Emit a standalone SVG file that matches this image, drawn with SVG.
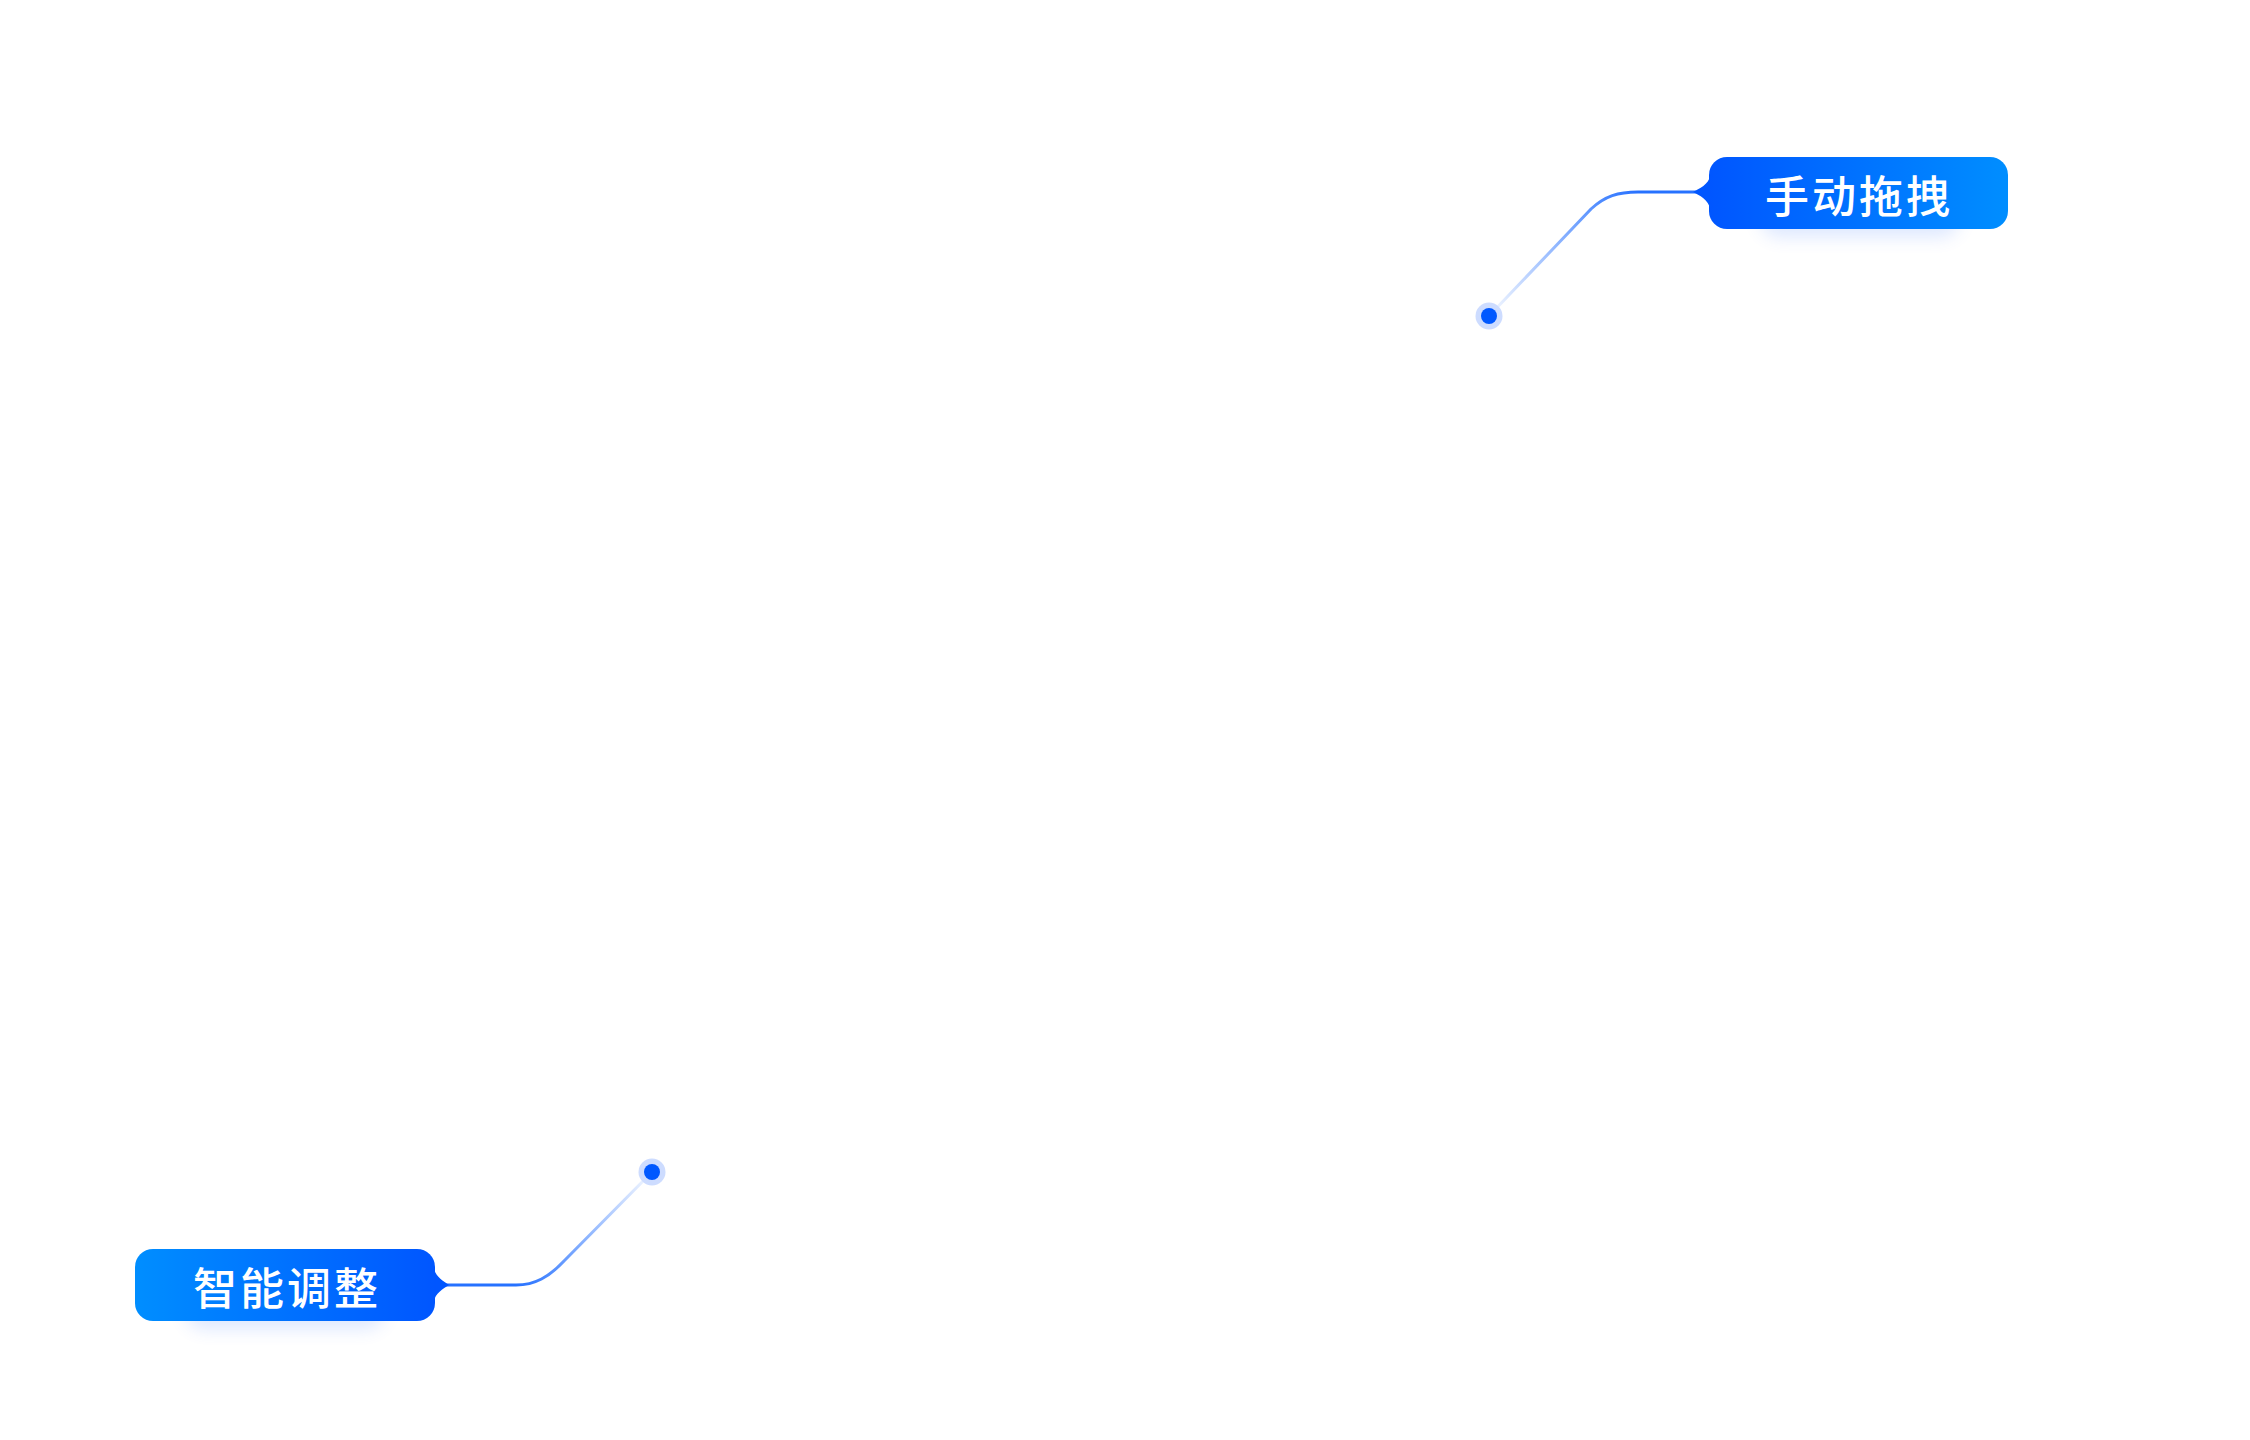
<svg xmlns="http://www.w3.org/2000/svg" width="2250" height="1440" viewBox="0 0 2250 1440">
  <defs>
    <style>
      .lbl { font-family: "Noto Sans CJK SC", "Noto Sans", sans-serif; font-size: 44px; font-weight: 500; fill: #ffffff; letter-spacing: 3px; }
      .halo { fill: #cddcff; }
      .core { fill: #0058ff; }
      .link { fill: none; stroke-width: 3; stroke-linecap: round; stroke-linejoin: round; }
      .shadow { fill: #2f6fff; opacity: 0.16; }
    </style>
    <linearGradient id="gTop" x1="0" y1="0" x2="1" y2="0">
      <stop offset="0" stop-color="#0056ff"/>
      <stop offset="1" stop-color="#008eff"/>
    </linearGradient>
    <linearGradient id="gBot" x1="0" y1="0" x2="1" y2="0">
      <stop offset="0" stop-color="#008eff"/>
      <stop offset="1" stop-color="#0056ff"/>
    </linearGradient>
    <linearGradient id="lTop" gradientUnits="userSpaceOnUse" x1="1492" y1="313" x2="1640" y2="192">
      <stop offset="0" stop-color="#0058ff" stop-opacity="0.05"/>
      <stop offset="0.7" stop-color="#0058ff" stop-opacity="0.6"/>
      <stop offset="1" stop-color="#0058ff" stop-opacity="0.85"/>
    </linearGradient>
    <linearGradient id="lBot" gradientUnits="userSpaceOnUse" x1="649" y1="1175" x2="515" y2="1285">
      <stop offset="0" stop-color="#0058ff" stop-opacity="0.05"/>
      <stop offset="0.7" stop-color="#0058ff" stop-opacity="0.6"/>
      <stop offset="1" stop-color="#0058ff" stop-opacity="0.85"/>
    </linearGradient>
    <filter id="blur" x="-50%" y="-100%" width="200%" height="300%">
      <feGaussianBlur stdDeviation="9"/>
    </filter>
  </defs>
  <rect width="2250" height="1440" fill="#ffffff"/>

  <g id="connectors">
    <path class="link" stroke="url(#lTop)" d="M1489,316 L1591,209 C1605,196 1618,192 1638,192 L1696,192"/>
    <path class="link" stroke="url(#lBot)" d="M652,1172 L564,1261 C549,1277 535,1285 516,1285 L446,1285"/>
  </g>

  <g id="node-manual-drag">
    <rect class="shadow" x="1760" y="185" width="200" height="52" rx="20" filter="url(#blur)"/>
    <rect x="1709" y="157" width="299" height="72" rx="18" fill="url(#gTop)"/>
    <path d="M1710,176 C1709,184 1699,189 1693,192 C1699,195 1709,200 1710,209 Z" fill="#0056ff"/>
    <text class="lbl" x="1859" y="194" text-anchor="middle" dominant-baseline="central">手动拖拽</text>
  </g>

  <g id="node-smart-adjust">
    <rect class="shadow" x="185" y="1277" width="200" height="52" rx="20" filter="url(#blur)"/>
    <rect x="135" y="1249" width="300" height="72" rx="18" fill="url(#gBot)"/>
    <path d="M434,1268 C435,1276 443,1281 449,1285 C443,1289 435,1293 434,1302 Z" fill="#0056ff"/>
    <text class="lbl" x="287" y="1286" text-anchor="middle" dominant-baseline="central">智能调整</text>
  </g>

  <g id="anchor-top">
    <circle class="halo" cx="1489" cy="316" r="13.5"/>
    <circle class="core" cx="1489" cy="316" r="8"/>
  </g>
  <g id="anchor-bottom">
    <circle class="halo" cx="652" cy="1172" r="13.5"/>
    <circle class="core" cx="652" cy="1172" r="8"/>
  </g>
</svg>
